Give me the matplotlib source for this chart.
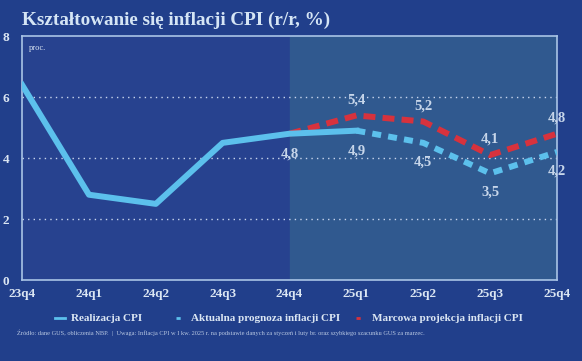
import matplotlib.pyplot as plt
from matplotlib.lines import Line2D

quarters = ["23q4", "24q1", "24q2", "24q3", "24q4", "25q1", "25q2", "25q3", "25q4"]
realizacja = [6.4, 2.8, 2.5, 4.5, 4.8, 4.9]
prognoza = [4.9, 4.5, 3.5, 4.2]          # from 25q1
projekcja = [4.8, 5.4, 5.2, 4.1, 4.8]    # from 24q4

bg = "#213f8b"
light = "#5cc0ec"
red = "#d7323d"
txt = "#dbe6f3"

fig = plt.figure(figsize=(5.82, 3.61), dpi=100, facecolor=bg)
ax = fig.add_axes([0.038, 0.224, 0.919, 0.676], facecolor="#27428f")

x = list(range(len(quarters)))
ax.axvspan(4, 8, color="#30598f", zorder=0)
for yv in [2, 4, 6]:
    ax.axhline(yv, color="#c9d6ee", lw=1.0, ls=(0, (1, 3)), zorder=1)

ax.plot(x[:6], realizacja, color=light, lw=4.3, solid_joinstyle="round", zorder=3)
ax.plot(x[5:], prognoza, color=light, lw=4.3, ls=(0, (1.5, 1.2)), zorder=3)
ax.plot(x[4:], projekcja, color=red, lw=4.3, ls=(0, (2.0, 1.2)), zorder=2)

lab = dict(color="#c7d6ea", fontsize=10.5, fontweight="bold", ha="center",
           family="Liberation Serif")
ax.text(4, 4.8 - 0.45, "4,8", va="top", **lab)
ax.text(5, 4.9 - 0.45, "4,9", va="top", **lab)
ax.text(5, 5.4 + 0.3, "5,4", va="bottom", **lab)
ax.text(6, 5.2 + 0.3, "5,2", va="bottom", **lab)
ax.text(6, 4.5 - 0.4, "4,5", va="top", **lab)
ax.text(7, 4.1 + 0.3, "4,1", va="bottom", **lab)
ax.text(7, 3.5 - 0.4, "3,5", va="top", **lab)
ax.text(8, 4.8 + 0.3, "4,8", va="bottom", **lab)
ax.text(8, 4.2 - 0.4, "4,2", va="top", **lab)

ax.set_xlim(0, 8)
ax.set_ylim(0, 8)
ax.set_xticks(x)
ax.set_xticklabels(quarters)
ax.set_yticks([0, 2, 4, 6, 8])
ax.tick_params(length=0, colors=txt, labelsize=9.5, pad=6)
ax.tick_params(axis="y", pad=9)
for t in ax.get_xticklabels() + ax.get_yticklabels():
    t.set_fontweight("bold")
    t.set_family("Liberation Serif")
for s in ax.spines.values():
    s.set_color("#a9c4e6")
    s.set_linewidth(1.2)

ax.text(0.1, 7.75, "proc.", color=txt, fontsize=6, va="top", family="Liberation Serif")

fig.text(0.038, 0.945, "Kształtowanie się inflacji CPI (r/r, %)", color="#d5e5f5",
         fontsize=13.8, fontweight="bold", family="Liberation Serif", va="center")

# legend drawn by hand to match the spacing of the original
leg_y = 0.119
items = [(0.095, light, "-", "Realizacja CPI"),
         (0.302, light, (0, (1.5, 2)), "Aktualna prognoza inflacji CPI"),
         (0.612, red, (0, (1.5, 2)), "Marcowa projekcja inflacji CPI")]
for x0, c, ls, name in items:
    fig.add_artist(Line2D([x0, x0 + 0.016], [leg_y, leg_y], color=c, lw=2, ls=ls,
                          transform=fig.transFigure))
    fig.text(x0 + 0.027, leg_y, name, color=txt, fontsize=8, fontweight="bold",
             family="Liberation Serif", va="center")

fig.text(0.03, 0.078, "Źródło: dane GUS, obliczenia NBP.  |  Uwaga: Inflacja CPI w I kw. 2025 r. na podstawie danych "
         "za styczeń i luty br. oraz szybkiego szacunku GUS za marzec.",
         color="#b9c8e2", fontsize=4.6, family="Liberation Serif", va="center")

fig.savefig("out.png", dpi=100, facecolor=bg)
